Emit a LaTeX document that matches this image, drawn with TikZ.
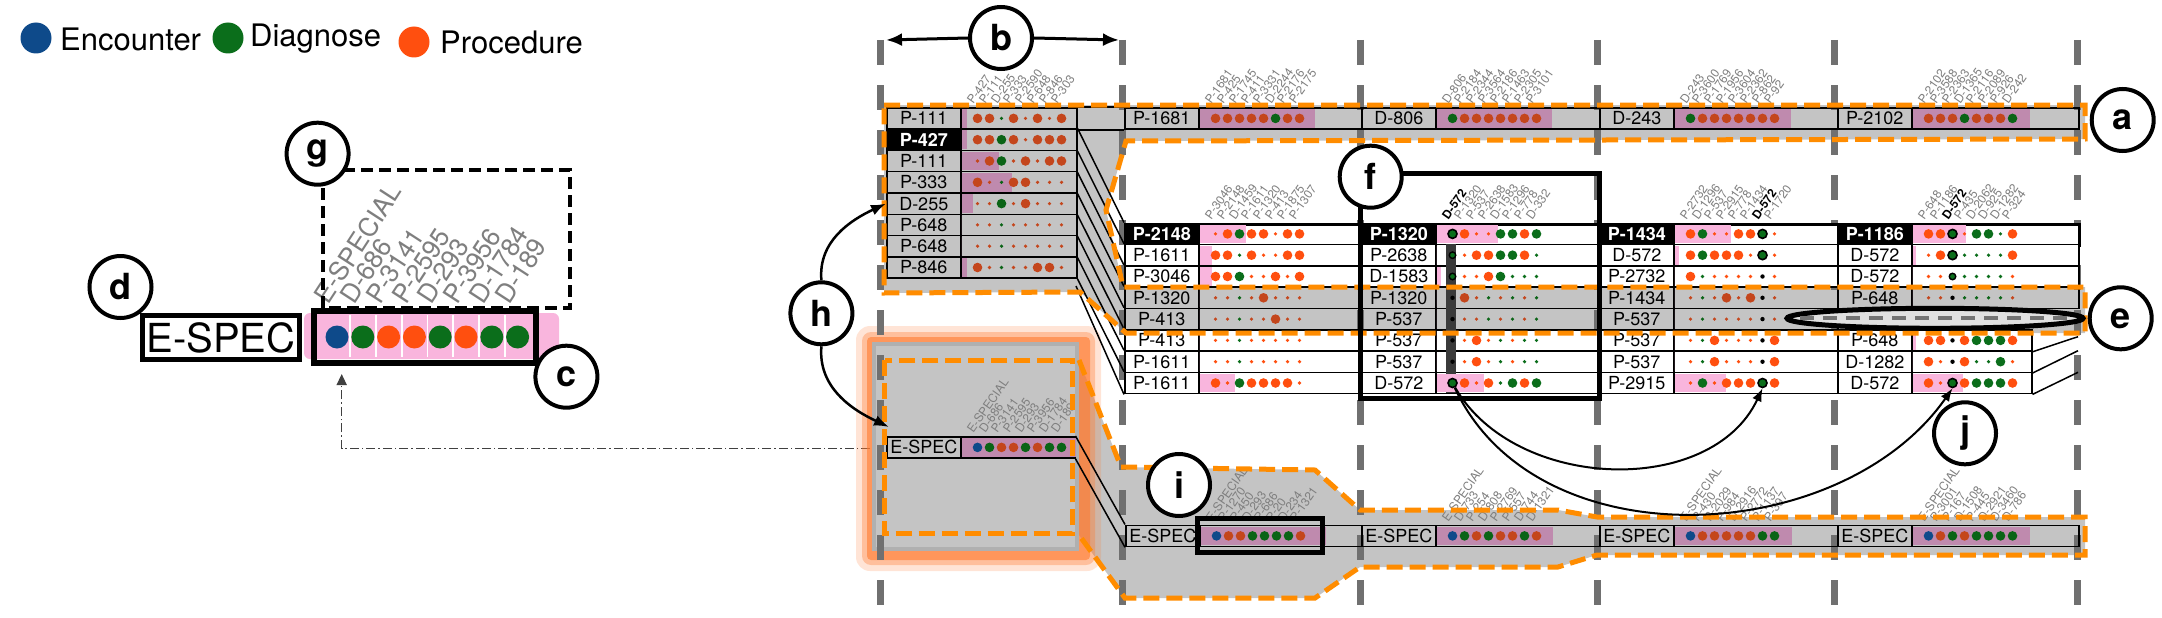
\documentclass[tikz,border=0pt]{standalone}
\usepackage{fontspec}
\setmainfont{TeX Gyre Heros}
\usetikzlibrary{arrows.meta,calc}

\definecolor{encC}{HTML}{0E4A8A}
\definecolor{diagC}{HTML}{0B6E1B}
\definecolor{procC}{HTML}{FF4F0F}
\definecolor{procD}{HTML}{C4461C}
\definecolor{diagD}{HTML}{0A6416}
\definecolor{flowG}{HTML}{C4C4C4}
\definecolor{rimG}{HTML}{B0B0B0}
\definecolor{pinkL}{HTML}{F9B5DD}
\definecolor{pinkD}{HTML}{BF8AAE}
\colorlet{pinkC}{pinkL}
\definecolor{pathO}{HTML}{FF8C00}
\definecolor{glowO}{HTML}{FF7A30}
\definecolor{colLine}{HTML}{707070}
\definecolor{tagG}{HTML}{7F7F7F}
\definecolor{barC}{HTML}{3A3A3A}

\newcommand{\rowfont}{\fontsize{18}{18}\selectfont}
\newcommand{\tagfont}{\fontsize{12}{12}\selectfont}
\newcommand{\bigtagfont}{\fontsize{26}{26}\selectfont}
\newcommand{\legfont}{\fontsize{31}{31}\selectfont}
\newcommand{\letfont}{\fontsize{36}{36}\selectfont\bfseries}

\tikzset{
  rowcell/.style={draw=black, line width=1.5pt, inner sep=0pt, minimum height=21.3pt},
  whiterow/.style={fill=white},
  thickrow/.style={line width=3pt},
  labcell/.style={draw=black, line width=1.5pt, inner sep=0pt, minimum width=74pt,
    minimum height=21.3pt, font=\rowfont},
  blacklab/.style={fill=black, text=white, font=\rowfont\bfseries},
  rowline/.style={draw=black, line width=1.5pt},
  dotO/.style={circle, inner sep=0pt, minimum size=9.6pt, fill=procC},
  doto/.style={circle, inner sep=0pt, minimum size=3.6pt, fill=procC},
  dotG/.style={circle, inner sep=0pt, minimum size=9.6pt, fill=diagC},
  dotg/.style={circle, inner sep=0pt, minimum size=3.6pt, fill=diagC},
  dotB/.style={circle, inner sep=0pt, minimum size=9.6pt, fill=encC},
  dotK/.style={circle, inner sep=0pt, minimum size=9pt, fill=diagC, draw=black, line width=1.6pt},
  dotr/.style={circle, inner sep=0pt, minimum size=6.5pt, fill=diagC, draw=black, line width=1.4pt},
  dotk/.style={circle, inner sep=0pt, minimum size=4.4pt, fill=black},
  cdotB/.style={circle, inner sep=0pt, minimum size=23pt, fill=encC},
  cdotG/.style={circle, inner sep=0pt, minimum size=23pt, fill=diagC},
  cdotO/.style={circle, inner sep=0pt, minimum size=23pt, fill=procC},
  hdrtag/.style={rotate=55, anchor=south west, inner sep=0pt, text=tagG, font=\tagfont},
  bigtag/.style={rotate=57, anchor=south west, inner sep=0pt, text=tagG, font=\bigtagfont},
  letterc/.style={circle, draw=black, line width=4pt, fill=white, minimum size=62pt,
    inner sep=0pt, font=\letfont},
  legdot/.style={circle, inner sep=0pt, minimum size=31pt},
  legtext/.style={anchor=west, inner sep=0pt, font=\legfont},
  espbox/.style={draw=black, line width=5pt, fill=white, minimum width=157pt,
    minimum height=44pt, inner sep=0pt, font=\fontsize{40}{40}\selectfont},
  colline/.style={draw=colLine, line width=7pt, dash pattern=on 25pt off 20pt},
  opath/.style={draw=pathO, line width=5pt, dash pattern=on 16pt off 7pt},
  gbox/.style={draw=black, line width=4pt, dash pattern=on 12pt off 6pt},
  linkline/.style={draw=black!75, line width=1.5pt, dash pattern=on 9pt off 3pt on 1.5pt off 3pt,
    -{Triangle[length=11pt,width=10pt]}},
  harrow/.style={line width=2.5pt, -{Latex[length=15pt,width=11pt]}},
  jarrow/.style={line width=2pt, -{Latex[length=13pt,width=10pt]}},
  barrow/.style={line width=3pt, -{Latex[length=16pt,width=13pt]}}
}

% one event row: [label style]{name}{x}{top}{width}{row style}{label}
\newcommand{\evrow}[7][]{%
  \node[rowcell,#6,minimum width=#5pt,anchor=north west] (#2) at (#3,-#4) {};
  \node[labcell,#1,anchor=north west] (#2-l) at (#2.north west) {#7};}
% pink bar and dots: {name}{pink width}{grey 1/0}{dots}
\newcommand{\evdots}[4]{%
  \begin{scope}
    \ifnum#3=1 \colorlet{procC}{procD}\colorlet{diagC}{diagD}\colorlet{pinkC}{pinkD}\fi
    \fill[pinkC] ($(#1-l.north east)+(0,-2)$) rectangle ($(#1-l.south east)+(#2,2)$);
    \foreach \d [count=\k] in {#4}
      \node[dot\d] (#1-\k) at ($(#1-l.east)+(4+12*\k,0)$) {};
  \end{scope}}
% rotated code names over the dots
\newcommand{\evtags}[2]{%
  \foreach \t [count=\k] in {#2}
    \node[hdrtag] (#1-t\k) at ($(#1-\k |- #1.north)+(-4,2)$) {\t};}

\begin{document}
\begin{tikzpicture}[x=1pt,y=1pt]
\useasboundingbox (0,0) rectangle (2162,-618);

% grey flow bands
\fill[flowG] (884,-105) -- (2085,-105) -- (2085,-139) -- (1126,-141) -- (1106,-210) -- (1123,-287)
  -- (2085,-287) -- (2085,-333) -- (1126,-333) -- (1080,-292) -- (884,-293) -- cycle;
\fill[flowG] (1079,-360) -- (1121,-467) -- (1315,-470) -- (1360,-510) -- (1558,-510) -- (1597,-517)
  -- (2085,-517) -- (2085,-555) -- (1597,-555) -- (1558,-567) -- (1360,-567) -- (1315,-598)
  -- (1125,-598) -- (1079,-535) -- cycle;

% link back to the enlarged event
\coordinate (hout) at (870,-448.5);
\coordinate (cin) at (341.7,-374);
\draw[linkline] (hout) -| (cin);

% highlighted block
\fill[glowO, opacity=.2, rounded corners=14pt] (856,-326) rectangle (1101,-571);
\fill[glowO, opacity=.35, rounded corners=9pt] (862,-332) rectangle (1095,-565);
\fill[glowO, opacity=.6, rounded corners=4pt] (867,-337) rectangle (1090,-560);
\filldraw[fill=flowG, draw=rimG, line width=4pt] (874,-344) rectangle (1077,-549);

% time columns
\foreach \x in {880,1122.5,1360.5,1597,1834,2077}
  \draw[colline] (\x,-40) -- (\x,-618);

% legend
\node[legdot, fill=encC] (lgE) at (36,-38) {};
\node[legtext] (lgEt) at (60,-39) {Encounter};
\node[legdot, fill=diagC] (lgD) at (228,-38) {};
\node[legtext] (lgDt) at (250,-39) {Diagnose};
\node[legdot, fill=procC] (lgP) at (414,-42) {};
\node[legtext] (lgPt) at (440,-42) {Procedure};

% enlarged event
\node[espbox] (esp) at (221,-337.5) {E-SPEC};
\fill[pinkL, rounded corners=6pt] (304,-313) rectangle (559,-359);
\foreach \x in {350,376,402,427.5,453,479,505}
  \draw[white, line width=1.5pt] (\x,-315) -- (\x,-357);
\foreach \d [count=\k] in {B,G,O,O,G,O,G,G}
  \node[cdot\d] (cs\k) at (311.2+25.8*\k,-337) {};
\draw[line width=6pt] (314,-311) rectangle (536,-363);
\foreach \t [count=\k] in {E-SPECIAL,D-686,P-3141,P-2595,D-293,P-3956,D-1784,D-189}
  \node[bigtag] (gt\k) at ($(cs\k)+(-8,31)$) {\t};
\draw[gbox] (323.4,-170) rectangle (570,-308);

% top row
\evrow{T1}{886}{107}{190}{}{P-111}
\evrow{T2}{1124}{107}{237}{}{P-1681}
\evrow{T3}{1361}{107}{238}{}{D-806}
\evrow{T4}{1599}{107}{238}{}{D-243}
\evrow{T5}{1837}{107}{241}{}{P-2102}
% first group
\evrow[blacklab]{L2}{886}{128.3}{190}{}{P-427}
\evrow{L3}{886}{149.6}{190}{}{P-111}
\evrow{L4}{886}{170.9}{190}{}{P-333}
\evrow{L5}{886}{192.2}{190}{}{D-255}
\evrow{L6}{886}{213.5}{190}{}{P-648}
\evrow{L7}{886}{234.8}{190}{}{P-648}
\evrow{L8}{886}{256.1}{190}{}{P-846}
% middle block
\evrow[blacklab]{M21}{1124}{222.5}{237}{whiterow,thickrow}{P-2148}
\evrow{M22}{1124}{243.8}{237}{whiterow}{P-1611}
\evrow{M23}{1124}{265.1}{237}{whiterow}{P-3046}
\evrow{M24}{1124}{286.4}{237}{}{P-1320}
\evrow{M25}{1124}{307.7}{237}{}{P-413}
\evrow{M26}{1124}{329}{237}{whiterow}{P-413}
\evrow{M27}{1124}{350.3}{237}{whiterow}{P-1611}
\evrow{M28}{1124}{371.6}{237}{whiterow}{P-1611}
\evrow[blacklab]{M31}{1361}{222.5}{238}{whiterow,thickrow}{P-1320}
\evrow{M32}{1361}{243.8}{238}{whiterow}{P-2638}
\evrow{M33}{1361}{265.1}{238}{whiterow}{D-1583}
\evrow{M34}{1361}{286.4}{238}{}{P-1320}
\evrow{M35}{1361}{307.7}{238}{}{P-537}
\evrow{M36}{1361}{329}{238}{whiterow}{P-537}
\evrow{M37}{1361}{350.3}{238}{whiterow}{P-537}
\evrow{M38}{1361}{371.6}{238}{whiterow}{D-572}
\evrow[blacklab]{M41}{1599}{222.5}{238}{whiterow,thickrow}{P-1434}
\evrow{M42}{1599}{243.8}{238}{whiterow}{D-572}
\evrow{M43}{1599}{265.1}{238}{whiterow}{P-2732}
\evrow{M44}{1599}{286.4}{238}{}{P-1434}
\evrow{M45}{1599}{307.7}{238}{}{P-537}
\evrow{M46}{1599}{329}{238}{whiterow}{P-537}
\evrow{M47}{1599}{350.3}{238}{whiterow}{P-537}
\evrow{M48}{1599}{371.6}{238}{whiterow}{P-2915}
\evrow[blacklab]{M51}{1837}{222.5}{241}{whiterow,thickrow}{P-1186}
\evrow{M52}{1837}{243.8}{241}{whiterow}{D-572}
\evrow{M53}{1837}{265.1}{241}{whiterow}{D-572}
\evrow{M54}{1837}{286.4}{241}{}{P-648}
\evrow{M56}{1837}{329}{194}{whiterow}{P-648}
\evrow{M57}{1837}{350.3}{194}{whiterow}{D-1282}
\evrow{M58}{1837}{371.6}{194}{whiterow}{D-572}
% bottom row and highlighted row
\evrow{H}{886}{436}{188}{}{E-SPEC}
\evrow{B2}{1125}{524.5}{236}{}{E-SPEC}
\evrow{B3}{1361}{524.5}{238}{}{E-SPEC}
\evrow{B4}{1599}{524.5}{238}{}{E-SPEC}
\evrow{B5}{1837}{524.5}{241}{}{E-SPEC}

\fill[barC] (1446,-243.8) rectangle (1456,-392.9);

\evdots{T1}{5}{1}{O,O,g,O,o,O,o,O}
\evdots{T2}{115}{1}{O,O,O,O,O,G,O,O}
\evdots{T3}{115}{1}{G,O,O,O,O,O,O,O}
\evdots{T4}{116}{1}{G,O,O,O,O,O,O,O}
\evdots{T5}{117}{1}{O,O,O,G,O,O,O,G}
\evdots{L2}{5}{1}{O,O,G,O,o,O,O,O}
\evdots{L3}{37}{1}{o,O,G,o,O,o,O,O}
\evdots{L4}{50}{1}{O,o,g,O,O,o,o,o}
\evdots{L5}{11}{1}{o,o,G,o,O,o,o,o}
\evdots{L6}{0}{1}{o,o,g,o,o,o,o,o}
\evdots{L7}{0}{1}{o,o,g,o,o,o,o,o}
\evdots{L8}{5}{1}{O,o,g,o,o,O,O,o}
\evdots{M21}{46}{0}{o,O,G,O,O,o,O,O}
\evdots{M22}{12}{0}{O,O,g,O,o,o,O,O}
\evdots{M23}{12}{0}{O,O,G,o,o,O,o,O}
\evdots{M24}{0}{1}{o,o,g,o,O,o,o,o}
\evdots{M25}{0}{1}{o,o,g,o,o,O,o,o}
\evdots{M26}{0}{0}{o,o,g,o,o,o,o,o}
\evdots{M27}{0}{0}{o,o,g,o,o,o,o,o}
\evdots{M28}{35}{0}{O,o,G,O,O,O,O,o}
\evdots{M31}{61}{0}{K,O,o,o,G,G,O,G}
\evdots{M32}{0}{0}{r,o,O,O,G,G,O,g}
\evdots{M33}{4}{0}{r,o,o,O,G,g,g,g}
\evdots{M34}{0}{1}{k,O,o,g,o,g,o,g}
\evdots{M35}{0}{1}{k,o,o,g,o,g,o,g}
\evdots{M36}{0}{0}{k,o,O,o,g,o,g,g}
\evdots{M37}{0}{0}{k,o,O,o,g,o,g,g}
\evdots{M38}{47}{0}{K,O,o,O,g,G,O,G}
\evdots{M41}{56}{0}{O,G,o,o,O,O,K,o}
\evdots{M42}{4}{0}{O,G,O,O,O,o,K,o}
\evdots{M43}{0}{0}{O,g,o,o,o,o,k,o}
\evdots{M44}{0}{1}{o,g,o,O,o,O,k,o}
\evdots{M45}{0}{1}{o,g,o,o,o,o,k,o}
\evdots{M46}{0}{0}{o,g,O,o,o,o,k,O}
\evdots{M47}{0}{0}{o,g,O,o,o,o,k,O}
\evdots{M48}{51}{0}{o,G,o,O,O,O,K,O}
\evdots{M51}{53}{0}{O,O,K,o,G,G,g,O}
\evdots{M52}{3}{0}{o,O,K,g,g,g,g,O}
\evdots{M53}{0}{0}{o,o,r,g,g,g,g,o}
\evdots{M54}{0}{1}{o,o,k,g,g,g,g,o}
\evdots{M56}{3}{0}{O,O,k,O,G,G,G,O}
\evdots{M57}{0}{0}{O,o,k,O,g,g,G,o}
\evdots{M58}{50}{0}{O,o,K,O,G,G,G,O}
\evdots{H}{114}{1}{B,G,O,O,G,O,G,G}
\evdots{B2}{125}{1}{B,O,O,G,G,G,G,O}
\evdots{B3}{116}{1}{B,G,O,G,O,O,G,O}
\evdots{B4}{117}{1}{B,O,O,O,O,O,G,G}
\evdots{B5}{117}{1}{B,O,G,O,G,G,G,G}

\evtags{T1}{P-427,P-111,D-255,P-333,P-2590,P-648,P-846,P-303}
\evtags{T2}{P-1681,P-425,P-1745,P-411,P-3331,D-2244,P-2176,P-2175}
\evtags{T3}{D-806,P-2184,P-2344,P-3564,P-2186,P-1463,P-2305,P-3101}
\evtags{T4}{D-243,P-3600,P-1769,P-1956,P-3604,P-2362,P-862,P-92}
\evtags{T5}{P-2102,P-3588,P-2363,D-1365,P-2116,P-2089,P-926,D-242}
\evtags{M21}{P-3046,P-2148,D-1459,P-1611,P-1320,P-413,P-1875,P-1307}
\evtags{M31}{{\color{black}\bfseries D-572},P-1320,P-537,P-2638,D-1583,P-1296,P-778,D-332}
\evtags{M41}{P-2732,D-1296,P-537,P-2915,P-778,P-1434,{\color{black}\bfseries D-572},P-1720}
\evtags{M51}{P-648,P-1186,{\color{black}\bfseries D-572},P-435,D-2062,D-925,D-1282,P-324}
\evtags{H}{E-SPECIAL,D-686,P-3141,P-2595,D-293,P-3956,D-1784,D-189}
\evtags{B2}{E-SPECIAL,P-1270,P-450,D-293,P-686,P-20,D-234,P-1321}
\evtags{B3}{E-SPECIAL,D-733,P-254,D-808,P-2769,P-557,D-744,D-1321}
\evtags{B4}{E-SPECIAL,P-430,P-2029,P-984,D-2916,P-2772,P-1137,P-397}
\evtags{B5}{E-SPECIAL,P-3001,P-167,D-1508,P-445,D-2921,D-3460,D-786}

% flows between groups
\draw[rowline] (T1.north east) -- (T2.north west);
\draw[rowline] (T1.south east) -- (T2.south west);
\coordinate (lgb) at (1076,-286);
\draw[rowline] (L2.north east) -- (M21.north west);
\draw[rowline] (L2.south east) -- (M22.north west);
\draw[rowline] (L3.south east) -- (M23.north west);
\draw[rowline] (L4.south east) -- (M24.north west);
\draw[rowline] (L5.south east) -- (M25.north west);
\draw[rowline] (L6.south east) -- (M26.north west);
\draw[rowline] (L7.south east) -- (M27.north west);
\draw[rowline] (L8.south east) -- (M28.north west);
\draw[rowline] (lgb) -- (M28.south west);
\draw[rowline] (H.north east) -- (B2.north west);
\draw[rowline] (H.south east) -- (B2.south west);
\coordinate (s6) at (2078,-336.7);
\coordinate (s7) at (2078,-350.7);
\coordinate (s8) at (2078,-372.3);
\draw[rowline] (M56.south east) -- (s6);
\draw[rowline] (M57.south east) -- (s7);
\draw[rowline] (M58.south east) -- (s8);

% selected paths
\draw[opath] (884,-105) -- (2085,-105) -- (2085,-139) -- (1126,-141) -- (1106,-210) -- (1123,-287)
  -- (2085,-287) -- (2085,-333) -- (1126,-333) -- (1080,-292) -- (884,-293) -- cycle;
\draw[opath] (884.6,-360) rectangle (1072,-533);
\draw[opath] (1079,-360) -- (1121,-467) -- (1315,-470) -- (1360,-510) -- (1558,-510) -- (1597,-517)
  -- (2085,-517) -- (2085,-555) -- (1597,-555) -- (1558,-567) -- (1360,-567) -- (1315,-598)
  -- (1125,-598) -- (1079,-535);

% frames
\draw[line width=5pt] (1360,-173) rectangle (1599.5,-398);
\draw[line width=5pt] (1197,-518) rectangle (1322,-552);
\draw[line width=5pt, fill=black!12] (1935,-318.3) ellipse [x radius=148pt, y radius=10pt];
\draw[line width=4pt, black!55, dash pattern=on 14pt off 9pt] (1800,-318.3) -- (2072,-318.3);

% letters
\node[letterc] (ca) at (2122.7,-120) {a};
\node[letterc] (cb) at (1001,-38) {b};
\node[letterc] (cc) at (566.4,-376.7) {c};
\node[letterc] (cd) at (120.5,-287) {d};
\node[letterc] (ce) at (2120.7,-318.3) {e};
\node[letterc] (cf) at (1370.7,-176.7) {f};
\node[letterc] (cg) at (317.6,-153.7) {g};
\node[letterc] (ch) at (821.4,-313.3) {h};
\node[letterc] (ci) at (1179,-485) {i};
\node[letterc] (cj) at (1965,-433.3) {j};

% arrows
\coordinate (bl) at (886,-40);
\coordinate (br) at (1119,-40);
\draw[barrow] (cb.west) -- (bl);
\draw[barrow] (cb.east) -- (br);
\coordinate (hin) at (889,-427);
\draw[harrow] (ch.north) to[out=95,in=205] (L5.west);
\draw[harrow] (ch.south) to[out=-95,in=155] (hin);
\draw[jarrow] (M38-1) to[out=-60,in=-115] (M48-7.south);
\draw[jarrow] (M38-1) to[out=-65,in=-125] (M58-3.south);
\end{tikzpicture}
\end{document}
